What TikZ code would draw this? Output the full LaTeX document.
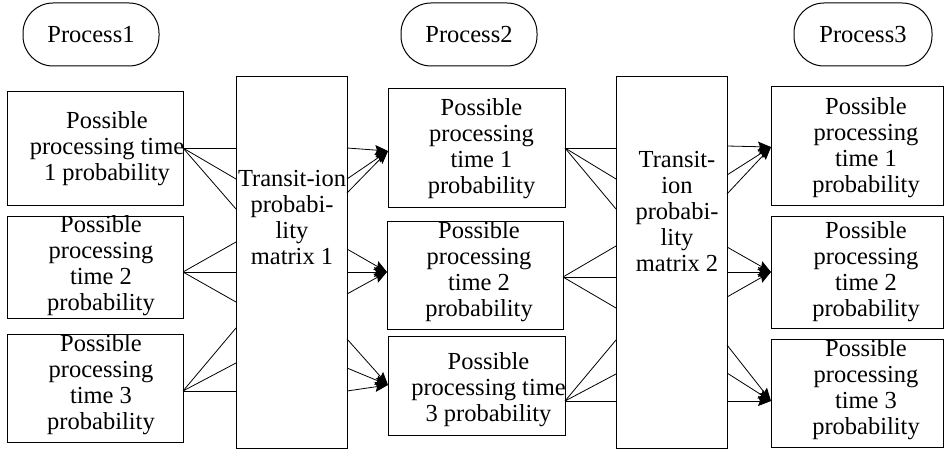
\documentclass[tikz,border=0pt]{standalone}
\usepackage{fontspec}
\setmainfont{Liberation Serif}
\newfontfamily\nodefont{Liberation Serif}
\usetikzlibrary{arrows.meta,calc,positioning}
\tikzstyle{element}=[
  draw=black,
  inner sep=0pt,
  line width=1pt,
  outer sep=0pt,
  rectangle,
]
\tikzstyle{process}=[
  element,
  font={\nodefont\fontsize{24.5}{26}\selectfont},
  minimum height=63pt,
  rounded corners=30pt,
]
\tikzstyle{elementtext}=[
  align=center,
  font={\nodefont\fontsize{24.5}{26}\selectfont},
  inner sep=0pt,
]
\tikzstyle{arrow}=[
  draw=black,
  line width=.8pt,
]
\tikzset{
  >={Stealth[length=13pt,width=10pt,inset=2pt]},
}
\begin{document}
\begin{tikzpicture}[x=1pt,y=-1pt]
     \useasboundingbox (0,0) rectangle (944,449);
     %% processes
     \node (proc1) [process, minimum width=136pt] at (91,34.5) {Process1};
     \node (proc2) [process, minimum width=136pt] at (469,34.5) {Process2};
     \node (proc3) [process, minimum width=138pt] at (863,34.5) {Process3};
     %% first column
     \node (p1a) [element, minimum width=176pt, minimum height=113pt] at (95,148.5) {};
     \node (p1b) [element, minimum width=176pt, minimum height=102pt] at (95,267) {};
     \node (p1c) [element, minimum width=176pt, minimum height=108pt] at (95,388) {};
     \node [elementtext] at ($(p1a.center)+(12,0)$) {Possible\\processing time\\1 probability};
     \node [elementtext] at ($(p1b.center)+(6,-1)$) {Possible\\processing\\time 2\\probability};
     \node [elementtext] at ($(p1c.center)+(6,-3)$) {Possible\\processing\\time 3\\probability};
     %% matrices
     \node (m1) [element, minimum width=111pt, minimum height=371pt] at (291.5,262.5) {};
     \node [elementtext] at (292,218) {Transit-ion\\probabi-\\lity\\matrix 1};
     \node (m2) [element, minimum width=111pt, minimum height=371pt] at (671.5,262.5) {};
     \node [elementtext] at (677,212) {Transit-\\ion\\probabi-\\lity\\matrix 2};
     %% second column
     \node (p2a) [element, minimum width=177pt, minimum height=118pt] at (476.5,148) {};
     \node (p2b) [element, minimum width=176pt, minimum height=108pt] at (475,275) {};
     \node (p2c) [element, minimum width=177pt, minimum height=99pt] at (476.5,385.5) {};
     \node [elementtext] at ($(p2a.center)+(5,1)$) {Possible\\processing\\time 1\\probability};
     \node [elementtext] at ($(p2b.center)+(4,-3)$) {Possible\\processing\\time 2\\probability};
     \node [elementtext] at ($(p2c.center)+(12,4)$) {Possible\\processing time\\3 probability};
     %% third column
     \node (p3a) [element, minimum width=172pt, minimum height=118pt] at (857,146) {};
     \node (p3b) [element, minimum width=172pt, minimum height=112pt] at (857,272) {};
     \node (p3c) [element, minimum width=172pt, minimum height=108pt] at (857,393) {};
     \node [elementtext] at ($(p3a.center)+(9,2)$) {Possible\\processing\\time 1\\probability};
     \node [elementtext] at ($(p3b.center)+(9,0)$) {Possible\\processing\\time 2\\probability};
     \node [elementtext] at ($(p3c.center)+(9,-3)$) {Possible\\processing\\time 3\\probability};
     %% hubs on the boxes
     \coordinate (h1a) at (p1a.east |- 0,148);
     \coordinate (h1b) at (p1b.east |- 0,272);
     \coordinate (h1c) at (p1c.east |- 0,391);
     \coordinate (h2a) at (p2a.west |- 0,151);
     \coordinate (h2b) at (p2b.west |- 0,272);
     \coordinate (h2c) at (p2c.west |- 0,385);
     \coordinate (g2a) at (p2a.east |- 0,148);
     \coordinate (g2b) at (p2b.east |- 0,277);
     \coordinate (g2c) at (p2c.east |- 0,401);
     \coordinate (h3a) at (p3a.west |- 0,147);
     \coordinate (h3b) at (p3b.west |- 0,272);
     \coordinate (h3c) at (p3c.west |- 0,401);
     %% first column to matrix 1
     \foreach \y in {148,179,209} \draw [arrow] (h1a) -- (m1.west |- 0,\y);
     \foreach \y in {242,272,302} \draw [arrow] (h1b) -- (m1.west |- 0,\y);
     \foreach \y in {328,363,391} \draw [arrow] (h1c) -- (m1.west |- 0,\y);
     %% matrix 1 to second column
     \foreach \y in {148,179,193} \draw [->, arrow] (m1.east |- 0,\y) -- (h2a);
     \foreach \y in {249,272,294} \draw [->, arrow] (m1.east |- 0,\y) -- (h2b);
     \foreach \y in {339,368,391} \draw [->, arrow] (m1.east |- 0,\y) -- (h2c);
     %% second column to matrix 2
     \foreach \y in {148,179,209} \draw [arrow] (g2a) -- (m2.west |- 0,\y);
     \foreach \y in {246,277,308} \draw [arrow] (g2b) -- (m2.west |- 0,\y);
     \foreach \y in {340,374,401} \draw [arrow] (g2c) -- (m2.west |- 0,\y);
     %% matrix 2 to third column
     \foreach \y in {146,175,194} \draw [->, arrow] (m2.east |- 0,\y) -- (h3a);
     \foreach \y in {247,272,297} \draw [->, arrow] (m2.east |- 0,\y) -- (h3b);
     \foreach \y in {345,373,401} \draw [->, arrow] (m2.east |- 0,\y) -- (h3c);
   \end{tikzpicture}
\end{document}
